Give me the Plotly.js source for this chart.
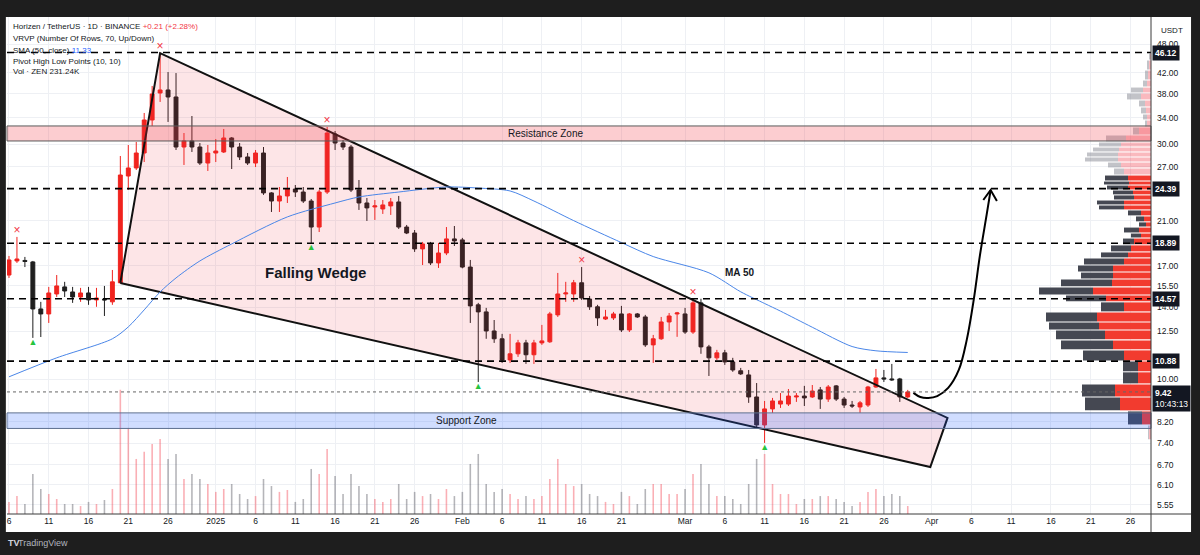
<!DOCTYPE html>
<html><head><meta charset="utf-8">
<script src="https://cdn.plot.ly/plotly-3.0.1.min.js"></script>
<style>html,body{margin:0;padding:0;background:#1e1e1e;}#chart{width:1200px;height:555px;}</style>
</head><body><div id="chart"></div>
<script>
// ---------- data ----------
const dates = [
'2024-12-06','2024-12-07','2024-12-08','2024-12-09','2024-12-10','2024-12-11','2024-12-12','2024-12-13','2024-12-14','2024-12-15',
'2024-12-16','2024-12-17','2024-12-18','2024-12-19','2024-12-20','2024-12-21','2024-12-22','2024-12-23','2024-12-24','2024-12-25',
'2024-12-26','2024-12-27','2024-12-28','2024-12-29','2024-12-30','2024-12-31',
'2025-01-01','2025-01-02','2025-01-03','2025-01-04','2025-01-05','2025-01-06','2025-01-07','2025-01-08','2025-01-09','2025-01-10',
'2025-01-11','2025-01-12','2025-01-13','2025-01-14','2025-01-15','2025-01-16','2025-01-17','2025-01-18','2025-01-19','2025-01-20',
'2025-01-21','2025-01-22','2025-01-23','2025-01-24','2025-01-25','2025-01-26','2025-01-27','2025-01-28','2025-01-29','2025-01-30','2025-01-31',
'2025-02-01','2025-02-02','2025-02-03','2025-02-04','2025-02-05','2025-02-06','2025-02-07','2025-02-08','2025-02-09','2025-02-10',
'2025-02-11','2025-02-12','2025-02-13','2025-02-14','2025-02-15','2025-02-16','2025-02-17','2025-02-18','2025-02-19','2025-02-20',
'2025-02-21','2025-02-22','2025-02-23','2025-02-24','2025-02-25','2025-02-26','2025-02-27','2025-02-28',
'2025-03-01','2025-03-02','2025-03-03','2025-03-04','2025-03-05','2025-03-06','2025-03-07','2025-03-08','2025-03-09','2025-03-10',
'2025-03-11','2025-03-12','2025-03-13','2025-03-14','2025-03-15','2025-03-16','2025-03-17','2025-03-18','2025-03-19','2025-03-20',
'2025-03-21','2025-03-22','2025-03-23','2025-03-24','2025-03-25','2025-03-26','2025-03-27','2025-03-28','2025-03-29'];

const open = [16.28,17.39,17.43,17.31,13.89,13.57,14.90,15.40,15.04,14.69,14.97,14.49,14.55,14.36,15.70,25.88,26.87,28.82,33.64,38.17,
38.71,37.46,29.64,30.49,29.64,27.50,28.82,28.96,30.92,29.64,28.29,27.50,28.82,23.91,23.02,23.57,24.35,24.01,23.02,20.38,
24.01,31.50,30.20,29.64,24.24,22.81,22.39,22.18,22.50,22.92,20.38,19.82,18.40,18.83,17.23,18.05,19.28,19.19,16.90,14.16,
13.70,12.53,12.08,10.94,11.26,11.85,11.21,11.85,11.91,13.51,14.90,14.90,15.70,14.55,14.03,13.25,13.32,13.57,12.59,13.57,
13.38,11.74,12.08,13.07,13.57,13.57,12.47,14.29,11.63,11.05,11.31,10.84,10.40,10.20,9.20,8.07,8.70,8.90,8.90,9.20,
9.24,9.20,9.51,9.11,9.69,9.11,8.86,8.78,8.86,9.64,10.06,10.01,10.01,9.20];
const high = [17.80,19.46,17.72,17.39,14.36,15.40,16.28,15.77,15.40,15.33,15.40,15.33,15.47,16.67,28.42,29.92,30.35,34.76,39.44,46.12,
42.10,41.90,31.65,34.27,30.20,29.92,30.77,32.25,31.06,30.20,28.82,29.23,29.64,24.00,24.58,25.76,24.81,24.58,23.24,24.24,
32.55,31.95,30.63,29.92,25.40,23.35,23.13,23.13,23.35,23.57,20.58,20.10,19.01,19.01,18.92,20.38,20.48,19.37,17.47,14.29,
13.96,13.19,12.36,12.36,12.02,12.02,12.02,12.89,13.70,16.44,15.77,15.91,16.90,14.76,14.16,13.83,13.70,14.09,13.63,13.63,
13.51,12.30,13.38,13.63,13.70,13.96,14.57,14.57,11.74,11.47,11.47,11.05,10.54,10.44,9.82,9.03,9.16,9.37,9.55,9.37,
9.69,9.73,9.64,9.73,9.73,9.20,9.03,9.03,9.69,10.49,10.44,10.74,10.06,9.51];
const low = [16.06,17.23,16.90,12.13,12.18,13.01,14.69,14.69,14.29,14.36,14.16,14.03,13.44,14.16,15.65,24.24,26.62,27.63,32.71,36.60,
33.33,29.23,27.25,28.96,27.25,26.50,27.63,28.82,26.74,27.89,27.25,26.99,23.69,21.87,21.87,22.81,23.46,22.81,18.89,19.91,
23.79,29.23,29.23,24.01,22.08,20.97,21.07,21.67,21.57,20.20,19.72,18.14,17.06,17.06,16.83,17.87,18.65,16.80,13.01,9.87,
12.08,11.85,10.79,10.79,11.10,10.74,10.74,11.74,11.85,13.38,14.36,14.36,14.49,13.83,12.83,13.19,13.19,12.47,12.47,13.32,
11.63,10.79,12.02,12.53,12.19,12.36,12.36,11.26,10.15,10.94,10.69,10.35,10.20,8.95,7.99,7.42,8.54,8.74,8.82,8.99,
8.82,9.16,8.70,8.99,9.03,8.74,8.74,8.54,8.78,9.60,9.87,9.92,8.99,9.16];
const close = [17.47,17.55,17.35,13.89,13.57,14.97,15.47,15.11,14.69,14.97,14.49,14.62,14.49,15.77,26.00,26.87,28.82,33.64,37.99,38.71,
37.46,29.64,30.49,29.64,27.50,28.82,29.09,30.92,29.64,28.29,27.50,28.82,23.91,23.02,23.57,24.35,24.01,23.02,20.38,24.01,
31.65,30.20,29.64,24.24,22.81,22.29,22.50,22.60,22.92,20.38,19.82,18.40,18.83,17.23,18.05,19.28,19.10,16.90,14.09,13.70,
12.53,12.08,10.94,11.26,11.85,11.21,11.85,11.96,13.57,14.90,14.97,15.70,14.62,14.03,13.32,13.38,13.57,12.59,13.57,13.38,
11.74,12.08,13.07,13.44,13.63,12.47,14.29,11.63,11.05,11.31,10.84,10.44,10.25,9.20,8.07,8.70,9.03,9.03,9.24,9.24,
9.16,9.46,9.11,9.64,9.11,8.86,8.82,8.95,9.64,10.06,10.01,9.97,9.20,9.42];
// volume in thousands of ZEN
const volume = [350,520,290,1160,725,580,435,290,290,230,350,290,405,725,3600,2495,1595,1800,2030,2175,
1595,1740,1015,1160,1015,870,640,725,870,580,435,520,1015,810,640,695,350,435,1305,1160,
1885,1100,580,1160,810,580,435,350,435,870,435,640,520,580,435,725,520,640,1450,1740,
870,640,725,580,435,520,435,520,1015,1595,870,810,870,580,520,350,290,640,520,290,
725,870,870,580,580,725,1160,1450,870,520,520,435,290,870,1595,1740,870,580,580,290,
435,435,520,520,435,350,230,350,640,725,520,580,520,231.24];

// SMA(50)
const maDates = ['2024-12-06','2024-12-12','2024-12-19','2024-12-21','2024-12-23','2024-12-25','2024-12-27','2024-12-30','2025-01-03','2025-01-10',
'2025-01-16','2025-01-19','2025-01-24','2025-01-30','2025-02-03','2025-02-07','2025-02-10','2025-02-15','2025-02-21','2025-02-25',
'2025-03-04','2025-03-08','2025-03-11','2025-03-13','2025-03-17','2025-03-22','2025-03-25','2025-03-29'];
const maValues = [10.11,11.05,12.08,12.77,13.83,15.04,16.06,17.39,18.83,21.37,22.81,23.46,24.01,24.58,24.46,24.13,23.02,21.0,18.95,17.75,
16.45,15.05,14.25,13.75,12.75,11.65,11.42,11.33];

// pivots
const pivotHighDates = ['2024-12-07','2024-12-25','2025-01-15','2025-02-16','2025-03-02'];
const pivotHighValues = [19.46,46.12,32.55,16.90,14.57];
const pivotLowDates = ['2024-12-09','2025-01-13','2025-02-03','2025-03-11'];
const pivotLowValues = [12.13,18.89,9.87,7.42];

// drawings
const wedgeDates = ['2024-12-20','2024-12-25','2025-04-03','2025-03-31 20:00','2024-12-20'];
const wedgePrices = [15.69,46.0,8.34,6.63,15.69];
const arrowDates = ['2025-03-29 17:00','2025-03-30 14:00','2025-03-31 14:00','2025-04-01 17:00','2025-04-03 02:00','2025-04-04 10:00',
'2025-04-05 10:00','2025-04-06 07:00','2025-04-07 02:00','2025-04-07 22:00','2025-04-08 10:00'];
const arrowPrices = [9.38,9.20,9.16,9.24,9.60,10.44,12.02,14.49,17.89,21.57,24.20];
const arrowHeadDates = ['2025-04-07 12:00','2025-04-08 10:00','2025-04-09 05:00'];
const arrowHeadPrices = [23.13,24.24,23.02];
const levels = [46.12,24.39,18.89,14.57,10.88];
const lastPrice = 9.42;
const resistanceZone = [30.49,32.71];
const supportZone = [7.94,8.54];

// visible range volume profile (70 rows, up/down)
const vpBounds = [46.02,44.54,42.50,40.56,39.25,38.17,36.94,35.75,34.60,33.64,32.55,31.36,30.35,29.64,28.96,28.29,27.63,26.87,26.00,
25.28,24.81,24.24,23.69,23.13,22.60,22.08,21.47,20.88,20.38,19.82,19.36,18.75,18.14,17.64,17.06,16.51,15.98,15.40,14.83,14.36,
13.70,13.07,12.59,12.02,11.47,10.89,10.35,9.78,9.20,8.62,8.07,7.53];
const vpUp = [1,2,3,4,8,10,6,5,4,4,12,25,30,32,33,33,30,27,23,22,23,18,17,27,27,10,7,5,12,10,17,20,23,27,38,38,39,58,45,27,54,52,46,38,27,13,13,36,31,9,2];
const vpDown = [1,2,3,4,12,14,6,5,4,2,6,20,22,26,31,33,13,10,23,25,21,20,20,27,25,13,8,7,15,10,11,20,27,40,35,32,51,54,40,23,51,50,49,52,41,15,15,33,35,14,1];
const valueArea = [8.07,26.00];

const xTickVals = ['2024-12-06','2024-12-11','2024-12-16','2024-12-21','2024-12-26','2025-01-01','2025-01-06','2025-01-11','2025-01-16',
'2025-01-21','2025-01-26','2025-02-01','2025-02-06','2025-02-11','2025-02-16','2025-02-21','2025-03-01','2025-03-06','2025-03-11',
'2025-03-16','2025-03-21','2025-03-26','2025-04-01','2025-04-06','2025-04-11','2025-04-16','2025-04-21','2025-04-26'];
const xTickText = ['6','11','16','21','26','2025','6','11','16','21','26','Feb','6','11','16','21','Mar','6','11','16','21','26','Apr','6','11','16','21','26'];
const yTickVals = [48,42,38,34,30,27,21,17,15.5,14,12.5,10,8.2,7.4,6.7,6.1,5.55];

// ---------- drawing ----------
const FONT = 'Liberation Sans, Arial, sans-serif';
const RED = '#f0231e', DARK = '#1f1f1f';
const L10 = v => Math.log10(v);
const DAY = 86400000;

const traces = [];
traces.push({type:'scatter', x:wedgeDates, y:wedgePrices, mode:'lines', fill:'toself',
  fillcolor:'rgba(242,54,69,0.13)', line:{color:'#111', width:2}, hoverinfo:'skip'});
traces.push({type:'scatter', x:maDates, y:maValues, mode:'lines', line:{color:'#4a86e8', width:1, shape:'spline', smoothing:0.8}, hoverinfo:'skip'});
traces.push({type:'candlestick', x:dates, open:open, high:high, low:low, close:close,
  increasing:{line:{color:RED, width:1}, fillcolor:RED},
  decreasing:{line:{color:DARK, width:1}, fillcolor:DARK}, whiskerwidth:0});
traces.push({type:'scatter', x:pivotHighDates, y:pivotHighValues, mode:'text', text:pivotHighDates.map(()=> '×'),
  textposition:'top center', textfont:{color:'#f23645', size:12, family:FONT}, hoverinfo:'skip'});
traces.push({type:'scatter', x:pivotLowDates, y:pivotLowValues, mode:'text', text:pivotLowDates.map(()=> '▲'),
  textposition:'bottom center', textfont:{color:'#27c43f', size:9, family:FONT}, hoverinfo:'skip'});
traces.push({type:'scatter', x:arrowDates, y:arrowPrices, mode:'lines', line:{color:'#000', width:2, shape:'spline'}, hoverinfo:'skip'});
traces.push({type:'scatter', x:arrowHeadDates, y:arrowHeadPrices, mode:'lines', line:{color:'#000', width:2}, hoverinfo:'skip'});
traces.push({type:'bar', x:dates, y:volume, yaxis:'y2', width:0.2*DAY,
  marker:{color:close.map((c,i)=> c>=open[i] ? 'rgba(242,54,69,0.4)' : 'rgba(70,70,80,0.4)'), line:{width:0}}, hoverinfo:'skip'});
traces.push({type:'scatter', x:[0], y:[10], xaxis:'x2', mode:'markers', marker:{opacity:0}, hoverinfo:'skip'});

const shapes = [];
// white panel
shapes.push({type:'rect', xref:'paper', yref:'paper', x0:-0.001, x1:1.035, y0:-0.0362, y1:1.0, fillcolor:'#ffffff', line:{width:0}, layer:'below'});
// volume profile
const gapF = 1.0025;
for (let i=0;i<vpUp.length;i++){
  const hi = vpBounds[i]/gapF, lo = vpBounds[i+1]*gapF;
  const inVA = vpBounds[i+1] >= valueArea[0]-1e-6 && vpBounds[i] <= valueArea[1]+1e-6;
  const cu = inVA ? '#f23b2f' : 'rgba(242,54,69,0.35)';
  const cd = inVA ? '#454852' : 'rgba(120,123,134,0.45)';
  shapes.push({type:'rect', xref:'x2', yref:'y', x0:vpUp[i], x1:vpUp[i]+vpDown[i], y0:lo, y1:hi, fillcolor:cd, line:{width:0}, layer:'above'});
  shapes.push({type:'rect', xref:'x2', yref:'y', x0:0, x1:vpUp[i], y0:lo, y1:hi, fillcolor:cu, line:{width:0}, layer:'above'});
}
// zones
shapes.push({type:'rect', xref:'paper', yref:'y', x0:0, x1:1, y0:resistanceZone[0], y1:resistanceZone[1],
  fillcolor:'rgba(242,54,69,0.25)', line:{color:'#5a5a5a', width:1}, layer:'above'});
shapes.push({type:'rect', xref:'paper', yref:'y', x0:0, x1:1, y0:supportZone[0], y1:supportZone[1],
  fillcolor:'rgba(41,98,255,0.22)', line:{color:'#5d6f8f', width:1}, layer:'above'});
// levels
levels.forEach(v => shapes.push({type:'line', xref:'paper', yref:'y', x0:0, x1:1, y0:v, y1:v,
  line:{color:'#000', width:1.6, dash:'7px,5px'}, layer:'above'}));
shapes.push({type:'line', xref:'paper', yref:'y', x0:0, x1:1, y0:lastPrice, y1:lastPrice, line:{color:'#666', width:1, dash:'dot'}, layer:'above'});
// frame separators
shapes.push({type:'line', xref:'paper', yref:'paper', x0:0, x1:1.035, y0:0, y1:0, line:{color:'#3a3a3a', width:1}, layer:'above'});
shapes.push({type:'line', xref:'paper', yref:'paper', x0:1, x1:1, y0:-0.0362, y1:1, line:{color:'#3a3a3a', width:1}, layer:'above'});

const ann = [];
const legendLines = [
  'Horizen / TetherUS · 1D · BINANCE <span style="color:#f23645">+0.21 (+2.28%)</span>',
  'VRVP (Number Of Rows, 70, Up/Down)',
  'SMA (50, close) <span style="color:#2962ff">11.33</span>',
  'Pivot High Low Points (10, 10)',
  'Vol · ZEN 231.24K'];
const legendShift = [-9.7,-21.3,-33,-44,-54.7];
legendLines.forEach((t,i)=> ann.push({xref:'paper', yref:'paper', x:0, y:1, xanchor:'left', yanchor:'middle', xshift:4, yshift:legendShift[i],
  text:t, showarrow:false, font:{family:FONT, size:8, color:'#131722'}}));
levels.forEach(v => ann.push({xref:'paper', yref:'y', x:1, y:L10(v), xanchor:'left', yanchor:'middle', xshift:1,
  text:'<b>'+v.toFixed(2)+'</b>', showarrow:false, bgcolor:'#131722', borderpad:2, font:{family:FONT, size:8.5, color:'#ffffff'}}));
ann.push({xref:'paper', yref:'y', x:1, y:L10(lastPrice), xanchor:'left', yanchor:'top', xshift:1, yshift:7,
  text:'<b>'+lastPrice.toFixed(2)+'</b><br>10:43:13', align:'left', showarrow:false, bgcolor:'#131722', borderpad:2,
  font:{family:FONT, size:8.5, color:'#ffffff'}});
ann.push({xref:'paper', yref:'paper', x:1, y:1, xanchor:'left', yanchor:'top', xshift:8, yshift:-7, text:'USDT', showarrow:false,
  font:{family:FONT, size:8, color:'#131722'}});
ann.push({xref:'x', yref:'y', x:'2025-01-13 12:00', y:L10(16.51), text:'<b>Falling Wedge</b>', showarrow:false, font:{family:FONT, size:15, color:'#131722'}});
ann.push({xref:'x', yref:'y', x:'2025-03-07 22:00', y:L10(16.51), text:'<b>MA 50</b>', showarrow:false, font:{family:FONT, size:10, color:'#131722'}});
ann.push({xref:'x', yref:'y', x:'2025-02-11 10:00', y:L10(Math.sqrt(resistanceZone[0]*resistanceZone[1])), text:'Resistance Zone', showarrow:false, font:{family:FONT, size:10, color:'#131722'}});
ann.push({xref:'x', yref:'y', x:'2025-02-01 12:00', y:L10(Math.sqrt(supportZone[0]*supportZone[1])), text:'Support Zone', showarrow:false, font:{family:FONT, size:10, color:'#131722'}});
ann.push({xref:'paper', yref:'paper', x:-0.001, y:-0.0584, xanchor:'left', yanchor:'middle', text:'<b>TV</b>', showarrow:false, font:{family:FONT, size:9, color:'#d1d4dc'}});
ann.push({xref:'paper', yref:'paper', x:0.0079, y:-0.0584, xanchor:'left', yanchor:'middle', text:'TradingView', showarrow:false, font:{family:FONT, size:9, color:'#b2b5be'}});

const layout = {
  width:1200, height:555, margin:{l:7, r:49, t:17, b:41},
  paper_bgcolor:'#1e1e1e', plot_bgcolor:'rgba(0,0,0,0)', showlegend:false,
  font:{family:FONT, color:'#131722'},
  xaxis:{type:'date', range:['2024-12-05 18:00','2025-04-28 14:00'], tickvals:xTickVals, ticktext:xTickText,
    showgrid:true, gridcolor:'#eef0f4', gridwidth:1, zeroline:false, showline:false, ticks:'',
    tickfont:{family:FONT, size:8.5, color:'#131722'}, rangeslider:{visible:false}, fixedrange:true},
  xaxis2:{overlaying:'x', range:[1144,0], visible:false, fixedrange:true},
  yaxis:{type:'log', side:'right', range:[L10(5.32), L10(54.47)], tickvals:yTickVals, ticktext:yTickVals.map(v=>v.toFixed(2)),
    showgrid:true, gridcolor:'#eef0f4', zeroline:false, showline:false, ticks:'', ticklabelstandoff:5,
    tickfont:{family:FONT, size:8.5, color:'#131722'}, fixedrange:true},
  yaxis2:{overlaying:'y', range:[0,14400], visible:false, fixedrange:true},
  shapes:shapes, annotations:ann
};
Plotly.newPlot('chart', traces, layout, {displayModeBar:false, staticPlot:true});
</script></body></html>
